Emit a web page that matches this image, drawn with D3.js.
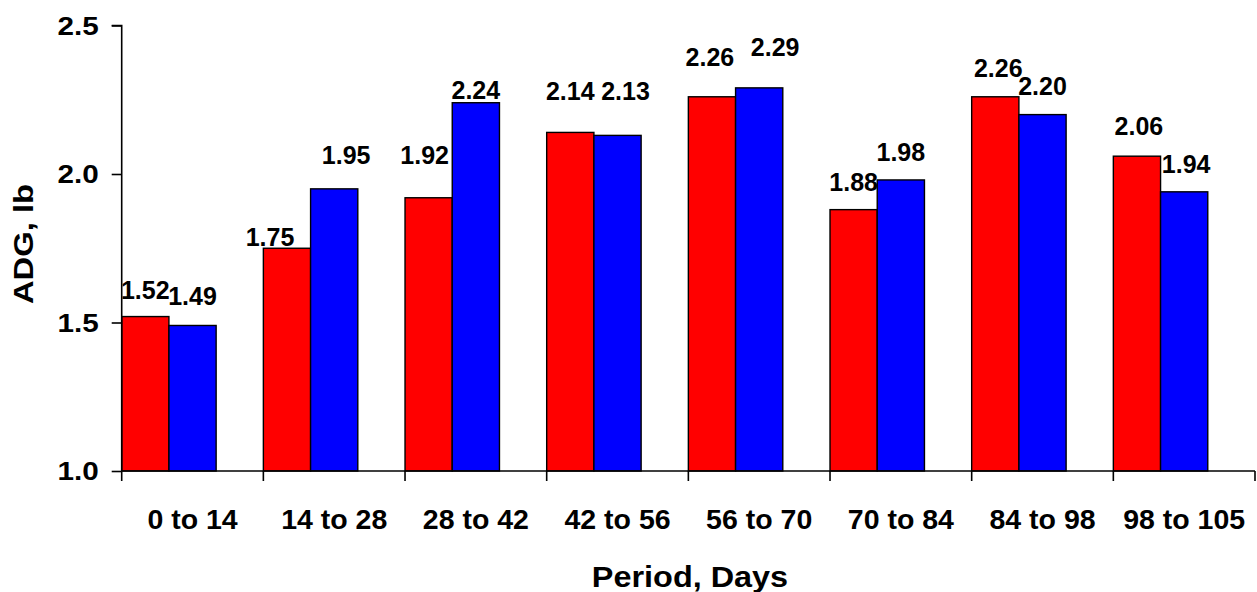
<!DOCTYPE html>
<html>
<head>
<meta charset="utf-8">
<script src="https://cdn.jsdelivr.net/npm/d3@7"></script>
<style>
  html, body { margin: 0; padding: 0; background: #fff; }
  svg { display: block; }
  text { font-family: "Liberation Sans", Arial, sans-serif; font-weight: bold; fill: #000; }
</style>
</head>
<body>
<svg id="chart" width="1257" height="592"></svg>
<script>
// ---- data ----
const categories = ["0 to 14", "14 to 28", "28 to 42", "42 to 56", "56 to 70", "70 to 84", "84 to 98", "98 to 105"];
const seriesNames = ["A", "B"];
const redValues  = [1.52, 1.75, 1.92, 2.14, 2.26, 1.88, 2.26, 2.06];
const blueValues = [1.49, 1.95, 2.24, 2.13, 2.29, 1.98, 2.20, 1.94];
const yTicks = [1.0, 1.5, 2.0, 2.5];
const xTitle = "Period, Days";
const yTitle = "ADG, lb";

// ---- label placement nudges (pixels, relative to bar top centre) ----
const redLabelDx  = [0, -17, -4, 0, -2, 0, 3, 2];
const redLabelDy  = [-18, -2, -34, -32, -31, -19, -20, -21];
const blueLabelDx = [0, 12, 0, 8, 16, 0, 0, 2];
const blueLabelDy = [-20, -25, -4, -35, -32, -19, -20, -19];

// ---- layout ----
const svg = d3.select("#chart");
const plotLeft = 121.7, plotRight = 1255, plotTop = 25.5, plotBottom = 471;
const colors = ["#ff0000", "#0000ff"];

const x = d3.scaleBand().domain(categories).range([plotLeft, plotRight]).paddingInner(0).paddingOuter(0);
const xSub = d3.scaleBand().domain(seriesNames).range([0, x.bandwidth() * 2 / 3]).padding(0);
const y = d3.scaleLinear().domain([1.0, 2.5]).range([plotBottom, plotTop]);

const series = [redValues, blueValues];
const nudges = [[redLabelDx, redLabelDy], [blueLabelDx, blueLabelDy]];

// bars
series.forEach((vals, si) => {
  svg.append("g").selectAll("rect")
    .data(vals.map((v, i) => ({ cat: categories[i], v })))
    .join("rect")
    .attr("x", d => x(d.cat) + xSub(seriesNames[si]))
    .attr("y", d => y(d.v))
    .attr("width", xSub.bandwidth())
    .attr("height", d => y(1.0) - y(d.v))
    .attr("fill", colors[si])
    .attr("stroke", "#000")
    .attr("stroke-width", 1.4);
});

// y axis
const ySx = 1.12;
const yAxis = d3.axisLeft(y).tickValues(yTicks).tickFormat(d3.format(".1f")).tickSize(10).tickPadding(13);
const gy = svg.append("g").attr("transform", `translate(${plotLeft},0)`).call(yAxis);
gy.select(".domain").attr("stroke", "#000").attr("stroke-width", 1.6).attr("d", `M-10,${plotTop}H0V${plotBottom}`);
gy.selectAll(".tick line").attr("stroke", "#000").attr("stroke-width", 1.6);
gy.selectAll(".tick text").style("font-size", "26.5px").attr("dy", "0.33em")
  .attr("x", -23 / ySx).attr("transform", `scale(${ySx},1)`)
  .style("font-family", "'Liberation Sans', Arial, sans-serif").style("font-weight", "bold");

// x axis
const xAxis = d3.axisBottom(x).tickSize(0).tickPadding(37.5);
const gx = svg.append("g").attr("transform", `translate(0,${plotBottom})`).call(xAxis);
gx.select(".domain").attr("stroke", "#000").attr("stroke-width", 1.6).attr("d", `M${plotLeft},0H${plotRight}`);
gx.selectAll(".tick text").style("font-size", "28.5px")
  .style("font-family", "'Liberation Sans', Arial, sans-serif").style("font-weight", "bold");
// category boundary ticks
gx.append("g").selectAll("line")
  .data(categories.concat(["__end"]))
  .join("line")
  .attr("x1", (d, i) => i < categories.length ? x(d) : plotRight)
  .attr("x2", (d, i) => i < categories.length ? x(d) : plotRight)
  .attr("y1", 0).attr("y2", 10)
  .attr("stroke", "#000").attr("stroke-width", 1.6);

// data labels
series.forEach((vals, si) => {
  const [ndx, ndy] = nudges[si];
  svg.append("g").selectAll("text")
    .data(vals.map((v, i) => ({ cat: categories[i], v, i })))
    .join("text")
    .attr("x", d => x(d.cat) + xSub(seriesNames[si]) + xSub.bandwidth() / 2 + ndx[d.i])
    .attr("y", d => y(d.v) + ndy[d.i])
    .attr("text-anchor", "middle")
    .style("font-size", "25px")
    .text(d => d.v.toFixed(2));
});

// titles
svg.append("text").attr("transform", "translate(690,586.5) scale(1.08,1)").attr("text-anchor", "middle")
  .style("font-size", "30px").text(xTitle);
svg.append("text").attr("transform", "translate(33,244) rotate(-90) scale(1.15,1)").attr("text-anchor", "middle")
  .style("font-size", "28.5px").text(yTitle);
</script>
</body>
</html>
